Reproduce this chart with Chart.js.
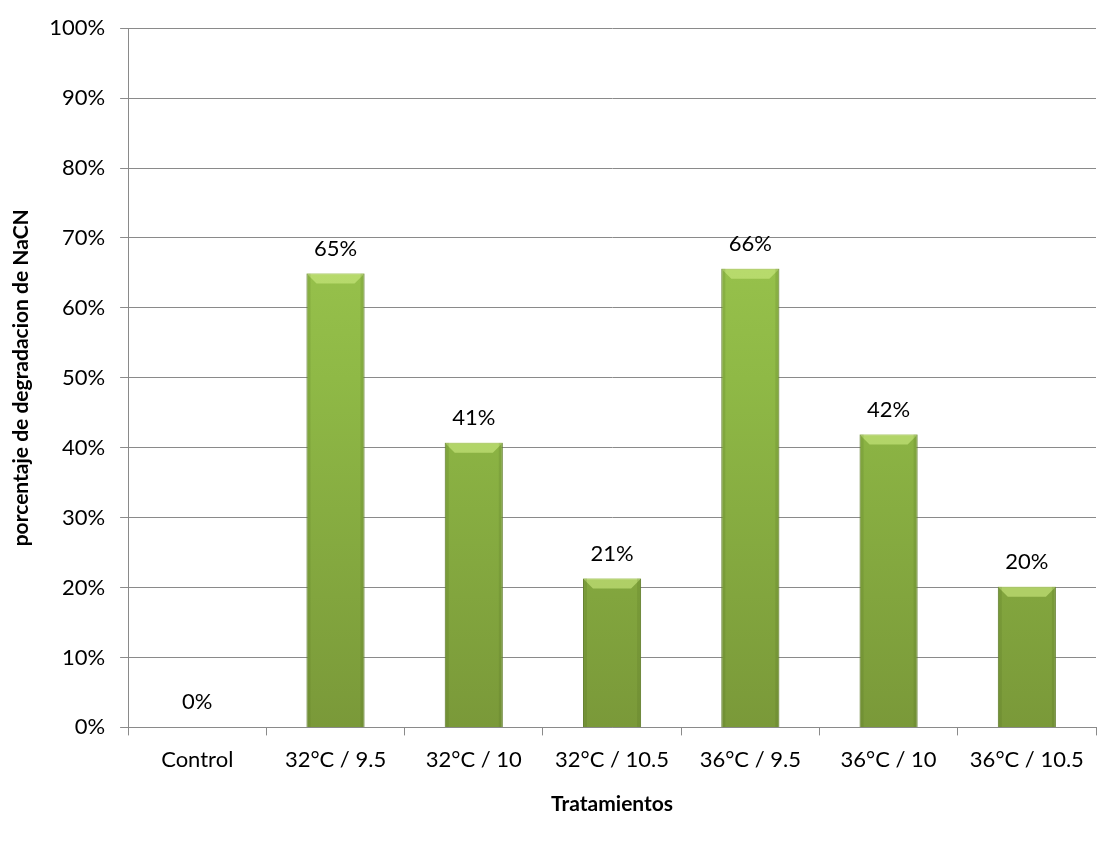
<!DOCTYPE html>
<html>
<head>
<meta charset="utf-8">
<script src="https://cdn.jsdelivr.net/npm/chart.js@4"></script>
<style>
  html, body { margin: 0; padding: 0; background: #fff; }
  #wrap { width: 1100px; height: 841px; }
</style>
</head>
<body>
<div id="wrap"><canvas id="grafico"></canvas></div>
<script>
// datos del grafico
const tratamientos = ["Control", "32°C / 9.5", "32°C / 10", "32°C / 10.5", "36°C / 9.5", "36°C / 10", "36°C / 10.5"];
const degradacion = [0, 0.649, 0.407, 0.213, 0.656, 0.419, 0.201];
const etiquetas = ["0%", "65%", "41%", "21%", "66%", "42%", "20%"];

const fuente = "Lato, 'Open Sans', sans-serif";

// relieve (bisel) y etiquetas de valor encima de cada barra
const etiquetasPlugin = {
  id: "etiquetas",
  afterDatasetsDraw(chart) {
    const ctx = chart.ctx;
    const meta = chart.getDatasetMeta(0);
    ctx.save();
    meta.data.forEach((bar) => {
      const h = bar.base - bar.y;
      if (h < 2) return;
      const x0 = bar.x - bar.width / 2;
      const x1 = bar.x + bar.width / 2;
      const b = Math.min(10, h / 2);
      // brillo superior
      ctx.fillStyle = "rgba(205,235,130,0.6)";
      ctx.beginPath();
      ctx.moveTo(x0, bar.y);
      ctx.lineTo(x1, bar.y);
      ctx.lineTo(x1 - b, bar.y + b);
      ctx.lineTo(x0 + b, bar.y + b);
      ctx.closePath();
      ctx.fill();
      // lados mas oscuros
      ctx.fillStyle = "rgba(70,95,30,0.15)";
      ctx.fillRect(x0, bar.y, 4, h);
      ctx.fillRect(x1 - 4, bar.y, 4, h);
    });
    ctx.fillStyle = "#000";
    ctx.font = "22px " + fuente;
    ctx.textAlign = "center";
    ctx.textBaseline = "middle";
    meta.data.forEach((bar, i) => {
      ctx.fillText(etiquetas[i], bar.x, bar.y - 25);
    });
    ctx.restore();
  },
};

function colorBarra(context) {
  const chart = context.chart;
  const area = chart.chartArea;
  if (!area) return "#92BE48";
  const g = chart.ctx.createLinearGradient(0, area.top, 0, area.bottom);
  g.addColorStop(0, "#A6D056");
  g.addColorStop(0.5, "#8FB946");
  g.addColorStop(1, "#7A9939");
  return g;
}

new Chart(document.getElementById("grafico"), {
  type: "bar",
  data: {
    labels: tratamientos,
    datasets: [{
      data: degradacion,
      backgroundColor: colorBarra,
      borderColor: "#6B8733",
      borderWidth: 1,
      barPercentage: 0.42,
      categoryPercentage: 1,
    }],
  },
  plugins: [etiquetasPlugin],
  options: {
    responsive: true,
    maintainAspectRatio: false,
    animation: false,
    layout: { padding: { top: 19, right: 4, left: 9, bottom: 20 } },
    plugins: {
      legend: { display: false },
      tooltip: { enabled: false },
    },
    scales: {
      x: {
        grid: {
          display: true,
          drawOnChartArea: false,
          drawTicks: true,
          tickLength: 8,
          color: "#8A8A8A",
          offset: true,
        },
        border: { color: "#8A8A8A", width: 1 },
        ticks: { color: "#000", font: { family: fuente, size: 22 }, padding: 11 },
        title: {
          display: true,
          text: "Tratamientos",
          color: "#000",
          font: { family: fuente, size: 21, weight: "bold" },
          padding: { top: 8 },
        },
      },
      y: {
        min: 0,
        max: 1,
        grid: { color: "#8A8A8A", tickLength: 8 },
        border: { color: "#8A8A8A", width: 1 },
        ticks: {
          stepSize: 0.1,
          color: "#000",
          font: { family: fuente, size: 22 },
          padding: 15,
          callback: (v) => Math.round(v * 100) + "%",
        },
        title: {
          display: true,
          text: "porcentaje de degradacion de NaCN",
          color: "#000",
          font: { family: fuente, size: 21, weight: "bold" },
          padding: { top: 0, bottom: 0 },
        },
      },
    },
  },
});
</script>
</body>
</html>
